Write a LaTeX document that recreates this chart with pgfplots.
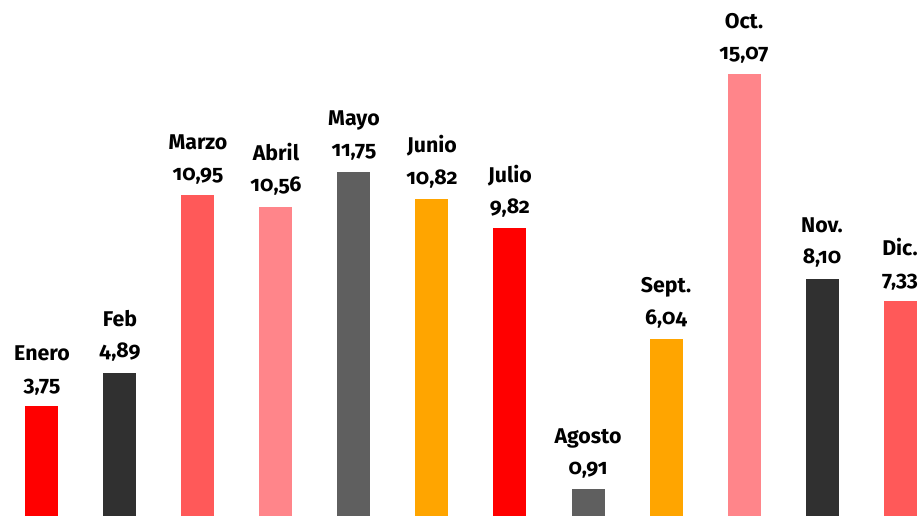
\documentclass[border=0pt]{standalone}
\usepackage{fontspec}
\setmainfont{Fira Sans}[Numbers=OldStyle]
\usepackage{pgfplots}
\pgfplotsset{compat=1.18}

\definecolor{cRed}{HTML}{FF0000}
\definecolor{cDark}{HTML}{303030}
\definecolor{cCoral}{HTML}{FF5959}
\definecolor{cPink}{HTML}{FF858A}
\definecolor{cGray}{HTML}{5F5F5F}
\definecolor{cOrange}{HTML}{FFA500}

% one bar: x, value, colour, month name
\newcommand\mbar[4]{%
  \addplot[fill=#3, draw=none,
    nodes near coords={#4\\\pgfmathprintnumber{\pgfplotspointmeta}}]
    coordinates {(#1,#2)};}

\begin{document}
\begin{tikzpicture}
  \begin{axis}[
      name=ax,
      width=691.5pt, height=388.5pt,
      scale only axis,
      hide axis,
      ybar, bar width=24.75pt, bar shift=0pt,
      xmin=-0.538, xmax=11.282,
      ymin=-0.07, ymax=17.61,
      clip=false,
      nodes near coords align={vertical},
      every node near coord/.append style={
          align=center,
          font=\fontsize{16}{23.5}\selectfont\bfseries,
          text=black, inner sep=2pt, yshift=6pt},
      /pgf/number format/.cd, fixed, fixed zerofill, precision=2, use comma,
        assume math mode=true,
    ]
    \mbar{0}{3.75}{cRed}{Enero}
    \mbar{1}{4.89}{cDark}{Feb}
    \mbar{2}{10.95}{cCoral}{Marzo}
    \mbar{3}{10.56}{cPink}{Abril}
    \mbar{4}{11.75}{cGray}{Mayo}
    \mbar{5}{10.82}{cOrange}{Junio}
    \mbar{6}{9.82}{cRed}{Julio}
    \mbar{7}{0.91}{cGray}{Agosto}
    \mbar{8}{6.04}{cOrange}{Sept.}
    \mbar{9}{15.07}{cPink}{Oct.}
    \mbar{10}{8.10}{cDark}{Nov.}
    \mbar{11}{7.33}{cCoral}{Dic.}
  \end{axis}
  \pgfresetboundingbox
  \path (ax.south west) rectangle (ax.north east);
\end{tikzpicture}
\end{document}
